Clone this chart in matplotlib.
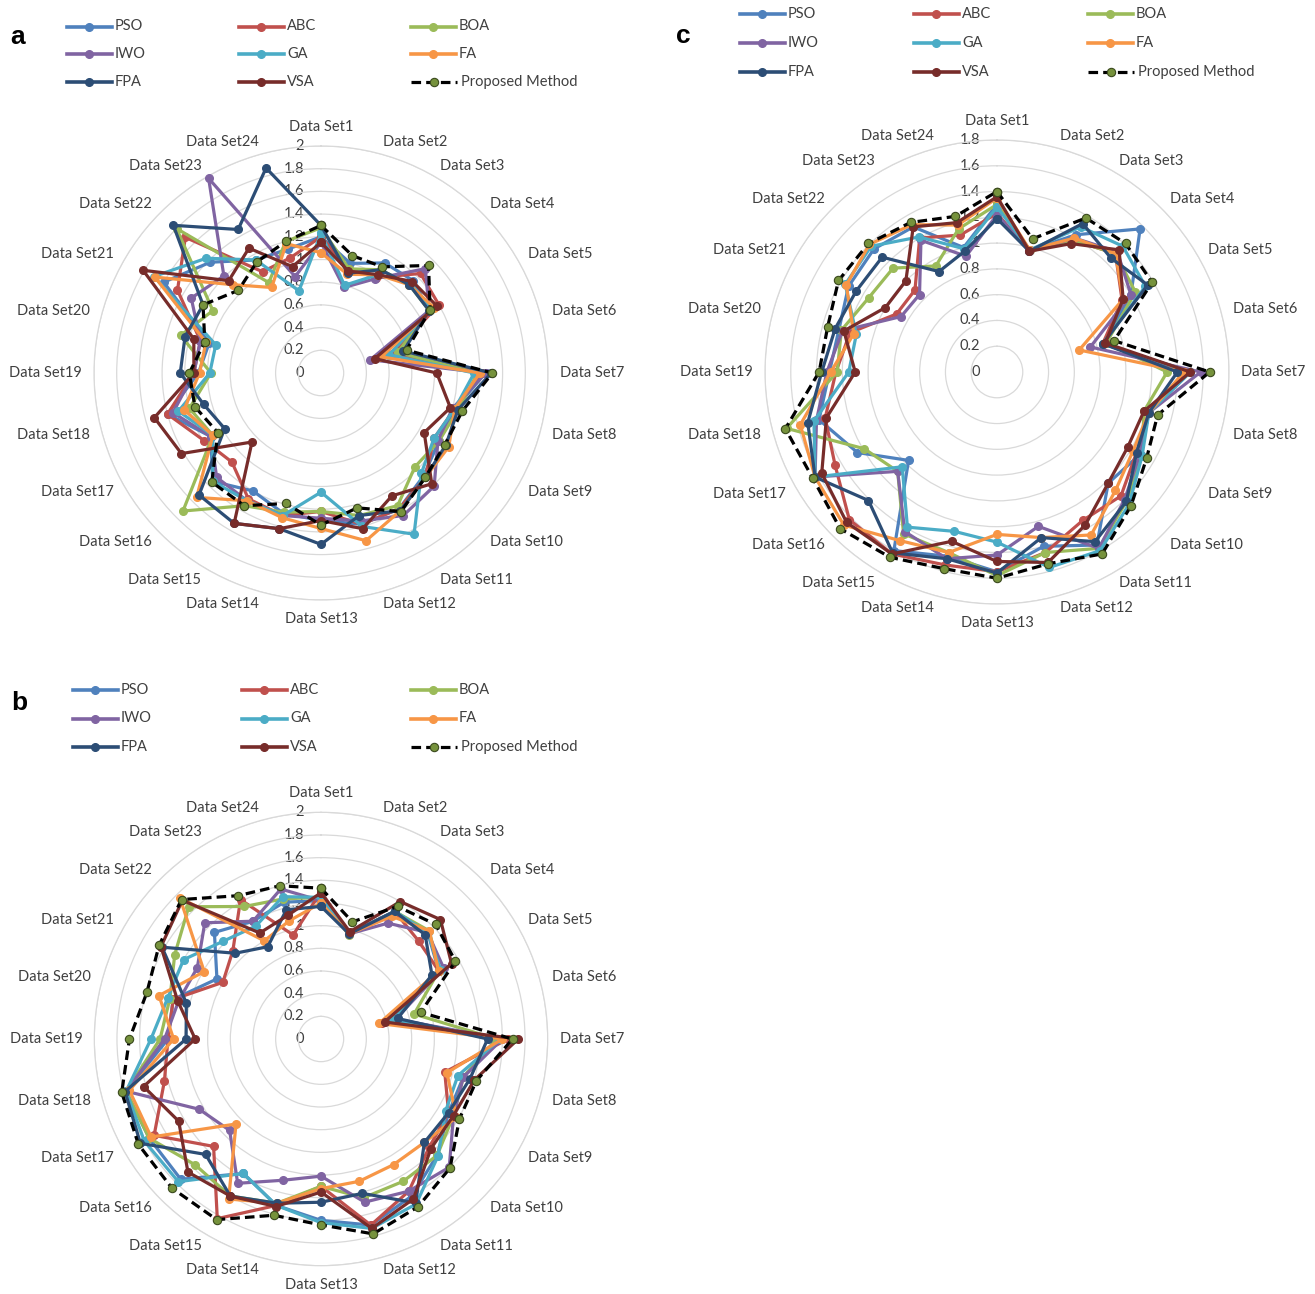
import matplotlib
matplotlib.use('Agg')
import matplotlib.pyplot as plt
import numpy as np
from matplotlib.transforms import offset_copy
from matplotlib.lines import Line2D

plt.rcParams['font.family'] = ['Lato', 'DejaVu Sans']

W, H = 1315, 1294

datasets = ['Data Set%d' % i for i in range(1, 25)]
methods = ['PSO', 'ABC', 'BOA', 'IWO', 'GA', 'FA', 'FPA', 'VSA', 'Proposed Method']
colors = ['#4F81BD', '#C0504D', '#9BBB59', '#8064A2', '#4BACC6', '#F79646',
          '#2C4D75', '#772C2A', 'black']

# ---- panel a ----
pso_a = [1.20, 1.00, 1.12, 1.15, 1.10, 0.68, 1.45, 1.22, 1.20, 1.28, 1.38, 1.38,
         1.30, 1.28, 1.20, 1.35, 1.12, 1.40, 1.08, 1.02, 1.60, 1.38, 1.15, 1.13]
abc_a = [1.20, 0.95, 0.97, 1.24, 1.20, 0.65, 1.42, 1.22, 1.15, 1.30, 1.38, 1.38,
         1.22, 1.30, 1.28, 1.11, 1.19, 1.40, 1.12, 1.10, 1.46, 1.69, 1.03, 1.05]
boa_a = [1.28, 0.95, 1.05, 1.10, 1.10, 0.70, 1.38, 1.25, 1.20, 1.17, 1.35, 1.30,
         1.22, 1.27, 1.35, 1.72, 1.10, 1.20, 0.97, 1.28, 1.10, 1.80, 0.92, 1.20]
iwo_a = [1.15, 0.78, 0.96, 1.30, 1.10, 0.45, 1.45, 1.20, 1.19, 1.41, 1.45, 1.35,
         1.28, 1.30, 1.30, 1.30, 1.12, 1.35, 1.12, 1.10, 1.32, 1.21, 1.98, 0.88]
ga_a = [1.23, 0.80, 1.00, 1.12, 1.12, 0.62, 1.35, 1.22, 1.15, 1.25, 1.64, 1.40,
        1.05, 1.30, 1.30, 1.35, 1.10, 1.30, 0.98, 0.96, 1.70, 1.43, 1.15, 0.75]
fa_a = [1.06, 0.90, 1.00, 1.10, 1.15, 0.55, 1.40, 1.22, 1.30, 1.30, 1.40, 1.53,
        1.37, 1.32, 1.30, 1.55, 1.10, 1.25, 1.07, 1.05, 1.69, 1.10, 0.87, 1.18]
fpa_a = [1.30, 0.91, 1.05, 1.10, 1.10, 0.75, 1.50, 1.25, 1.27, 1.30, 1.40, 1.30,
         1.51, 1.42, 1.53, 1.52, 0.98, 1.07, 1.24, 1.24, 1.20, 1.84, 1.46, 1.87]
vsa_a = [1.15, 0.93, 1.00, 1.14, 1.18, 0.49, 1.02, 1.18, 1.05, 1.38, 1.25, 1.42,
         1.30, 1.42, 1.53, 0.86, 1.42, 1.52, 1.12, 1.16, 1.81, 1.15, 1.27, 0.97]
prop_a = [1.30, 1.07, 1.08, 1.34, 1.11, 0.78, 1.51, 1.29, 1.26, 1.30, 1.41, 1.23,
          1.34, 1.19, 1.35, 1.36, 1.05, 1.15, 1.16, 1.06, 1.20, 1.03, 1.13, 1.20]

# ---- panel b ----
pso_b = [1.22, 0.96, 1.30, 1.33, 1.20, 0.68, 1.55, 1.30, 1.30, 1.45, 1.60, 1.70,
         1.60, 1.52, 1.37, 1.75, 1.75, 1.78, 1.35, 1.35, 1.06, 1.33, 1.20, 1.25]
abc_b = [1.30, 0.96, 1.30, 1.22, 1.20, 0.56, 1.65, 1.13, 1.30, 1.35, 1.55, 1.70,
         1.30, 1.52, 1.83, 1.34, 1.70, 1.43, 1.35, 1.35, 1.00, 1.10, 1.42, 0.95]
boa_b = [1.25, 0.95, 1.30, 1.35, 1.20, 0.85, 1.55, 1.30, 1.35, 1.45, 1.45, 1.45,
         1.30, 1.50, 1.60, 1.57, 1.75, 1.78, 1.42, 1.38, 1.49, 1.65, 1.35, 1.28]
iwo_b = [1.22, 0.96, 1.18, 1.33, 1.25, 0.68, 1.60, 1.30, 1.35, 1.60, 1.55, 1.49,
         1.21, 1.29, 1.47, 1.14, 1.24, 1.78, 1.38, 1.30, 1.26, 1.45, 1.20, 1.37]
ga_b = [1.25, 0.96, 1.30, 1.33, 1.22, 0.65, 1.58, 1.25, 1.27, 1.46, 1.68, 1.73,
        1.62, 1.52, 1.37, 1.78, 1.80, 1.78, 1.50, 1.40, 1.40, 1.22, 1.15, 1.30]
fa_b = [1.20, 0.96, 1.25, 1.35, 1.20, 0.53, 1.60, 1.15, 1.38, 1.29, 1.28, 1.30,
        1.32, 1.50, 1.63, 1.06, 1.73, 1.75, 1.30, 1.48, 1.19, 1.76, 1.00, 1.08]
fpa_b = [1.17, 0.96, 1.30, 1.30, 1.13, 0.70, 1.47, 1.36, 1.30, 1.29, 1.67, 1.41,
         1.44, 1.50, 1.60, 1.44, 1.84, 1.79, 1.19, 1.23, 1.62, 1.07, 0.94, 1.18]
vsa_b = [1.29, 0.98, 1.40, 1.49, 1.33, 0.58, 1.74, 1.40, 1.35, 1.37, 1.63, 1.73,
         1.35, 1.53, 1.60, 1.66, 1.45, 1.62, 1.11, 1.31, 1.63, 1.73, 1.08, 1.13]
prop_b = [1.33, 1.07, 1.35, 1.43, 1.37, 0.91, 1.69, 1.42, 1.41, 1.61, 1.71, 1.78,
          1.64, 1.61, 1.84, 1.86, 1.86, 1.82, 1.69, 1.59, 1.65, 1.74, 1.46, 1.40]

# ---- panel c ----
pso_c = [1.30, 0.98, 1.23, 1.57, 1.20, 0.85, 1.50, 1.22, 1.28, 1.22, 1.55, 1.40,
         1.55, 1.48, 1.60, 0.97, 1.25, 1.43, 1.30, 1.27, 1.33, 1.35, 1.30, 1.00]
abc_c = [1.23, 0.97, 1.18, 1.30, 1.12, 0.85, 1.48, 1.22, 1.25, 1.36, 1.33, 1.45,
         1.55, 1.55, 1.63, 1.62, 1.45, 1.38, 1.25, 1.18, 0.90, 0.90, 1.20, 1.10]
boa_c = [1.30, 0.97, 1.18, 1.30, 1.24, 0.88, 1.32, 1.18, 1.30, 1.42, 1.58, 1.45,
         1.58, 1.45, 1.45, 1.09, 1.19, 1.69, 1.24, 1.25, 1.15, 1.14, 0.95, 1.15]
iwo_c = [1.22, 0.97, 1.20, 1.32, 1.20, 0.75, 1.58, 1.22, 1.28, 1.40, 1.58, 1.24,
         1.42, 1.50, 1.43, 1.09, 1.63, 1.45, 1.32, 1.24, 0.86, 0.85, 1.18, 0.93]
ga_c = [1.28, 0.98, 1.30, 1.38, 1.33, 0.85, 1.50, 1.22, 1.30, 1.45, 1.60, 1.57,
        1.32, 1.28, 1.39, 1.04, 1.63, 1.47, 1.15, 1.13, 1.36, 1.38, 1.21, 0.99]
fa_c = [1.35, 0.98, 1.20, 1.30, 1.13, 0.66, 1.45, 1.22, 1.22, 1.30, 1.46, 1.33,
        1.26, 1.45, 1.51, 1.68, 1.63, 1.58, 1.29, 1.15, 1.35, 1.40, 1.32, 1.18]
fpa_c = [1.19, 0.97, 1.33, 1.25, 1.35, 0.85, 1.40, 1.22, 1.25, 1.42, 1.52, 1.33,
         1.56, 1.50, 1.62, 1.41, 1.63, 1.52, 1.36, 1.30, 1.26, 1.26, 0.90, 0.97]
vsa_c = [1.36, 0.97, 1.15, 1.34, 1.13, 0.87, 1.50, 1.18, 1.17, 1.22, 1.37, 1.53,
         1.47, 1.36, 1.63, 1.65, 1.57, 1.37, 1.10, 1.23, 1.00, 1.00, 1.30, 1.20]
prop_c = [1.40, 1.07, 1.38, 1.41, 1.39, 0.94, 1.65, 1.29, 1.34, 1.47, 1.63, 1.54,
          1.60, 1.58, 1.66, 1.72, 1.65, 1.70, 1.38, 1.36, 1.42, 1.41, 1.34, 1.25]

panel_a = [pso_a, abc_a, boa_a, iwo_a, ga_a, fa_a, fpa_a, vsa_a, prop_a]
panel_b = [pso_b, abc_b, boa_b, iwo_b, ga_b, fa_b, fpa_b, vsa_b, prop_b]
panel_c = [pso_c, abc_c, boa_c, iwo_c, ga_c, fa_c, fpa_c, vsa_c, prop_c]

TXT = '#404040'
GRID = '#D9D9D9'
PROP_MARK = '#76923C'

fig = plt.figure(figsize=(W / 100, H / 100), dpi=100)


def fx(x):
    return x / W


def fy(y):
    return 1 - y / H


def draw_radar(cx, cy, R, rmax, series):
    ax = fig.add_axes([fx(cx - R), fy(cy + R), 2 * R / W, 2 * R / H], projection='polar')
    ax.set_theta_zero_location('N')
    ax.set_theta_direction(-1)
    ax.set_ylim(0, rmax)
    ticks = np.round(np.arange(0, rmax + 0.001, 0.2), 1)
    ax.set_yticks(ticks)
    ax.set_yticklabels([])
    ax.set_xticks([])
    ax.yaxis.grid(True, color=GRID, lw=0.9)
    ax.spines['polar'].set_color(GRID)
    ax.spines['polar'].set_linewidth(0.9)
    ax.patch.set_alpha(0)

    theta = np.deg2rad(np.arange(24) * 15)
    th_c = np.append(theta, theta[0])

    # radial tick labels along the Data Set1 axis
    tr = offset_copy(ax.transData, fig=fig, x=-17, y=0, units='dots')
    for v in ticks:
        ax.text(0, v, '%g' % v, transform=tr, ha='right', va='center',
                fontsize=10.5, color=TXT, zorder=1)

    # category labels
    for i, name in enumerate(datasets):
        s, c = np.sin(theta[i]), np.cos(theta[i])
        tr = offset_copy(ax.transData, fig=fig, x=12 * s, y=12 * c, units='dots')
        if abs(s) < 0.05:
            ha = 'center'
            va = 'bottom' if c > 0 else 'top'
        else:
            ha = 'left' if s > 0 else 'right'
            va = 'center'
        ax.text(theta[i], rmax, name, transform=tr, ha=ha, va=va,
                fontsize=10.5, color=TXT, clip_on=False)

    for k, vals in enumerate(series):
        v_c = np.append(vals, vals[0])
        if k == 8:
            ax.plot(th_c, v_c, color='black', lw=2.3, ls=(0, (3, 1.6)), marker='o',
                    ms=6, mfc=PROP_MARK, mec='#3B4A1E', mew=0.8, zorder=5, clip_on=False)
        else:
            ax.plot(th_c, v_c, color=colors[k], lw=2.3, marker='o', ms=5.5,
                    zorder=3 + k * 0.1, clip_on=False)
    return ax


def draw_legend(x0, y0, dx, dy, letter, lx, ly):
    for k, name in enumerate(methods):
        row, col = k // 3, k % 3
        x = x0 + col * dx
        y = y0 + row * dy
        if k == 8:
            fig.add_artist(Line2D([fx(x), fx(x + 46)], [fy(y), fy(y)], transform=fig.transFigure,
                                  color='black', lw=2.3, ls=(0, (3, 1.6))))
            fig.add_artist(Line2D([fx(x + 23)], [fy(y)], transform=fig.transFigure, marker='o',
                                  ms=6, mfc=PROP_MARK, mec='#3B4A1E', mew=0.8, ls='none'))
            tx = x + 50
        else:
            fig.add_artist(Line2D([fx(x), fx(x + 45)], [fy(y), fy(y)], transform=fig.transFigure,
                                  color=colors[k], lw=2.6))
            fig.add_artist(Line2D([fx(x + 22)], [fy(y)], transform=fig.transFigure, marker='o',
                                  ms=5.5, color=colors[k], ls='none'))
            tx = x + 48
        fig.text(fx(tx), fy(y), name, ha='left', va='center', fontsize=10.5, color=TXT)
    fig.text(fx(lx), fy(ly), letter, ha='center', va='center', fontsize=19,
             fontweight='bold', family='Liberation Sans', color='black')


draw_radar(321, 373, 227, 2.0, panel_a)
draw_radar(997, 372, 232, 1.8, panel_c)
draw_radar(321, 1039, 226.7, 2.0, panel_b)

draw_legend(67, 26.5, 172, 27.6, 'a', 18, 37)
draw_legend(73, 690, 169, 28.5, 'b', 19, 703)
draw_legend(740, 14, 174, 29, 'c', 683, 36)

fig.savefig('out.png', dpi=100)
